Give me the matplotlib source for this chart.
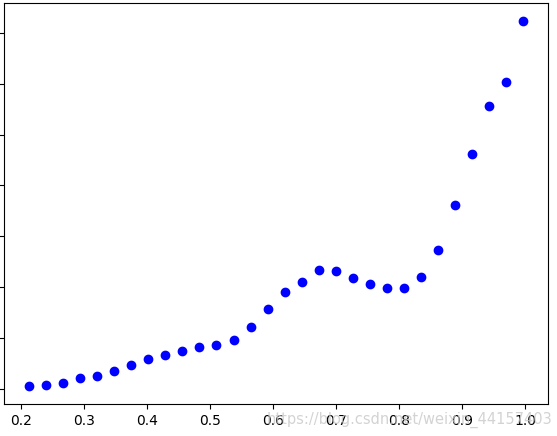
import numpy as np
import matplotlib.pyplot as plt

# values (y in arbitrary units, labels are cropped away)
x = [0.212, 0.239, 0.266, 0.293, 0.320, 0.347, 0.374, 0.401, 0.428, 0.455,
     0.482, 0.509, 0.537, 0.564, 0.591, 0.618, 0.645, 0.672, 0.699, 0.726,
     0.753, 0.780, 0.807, 0.834, 0.861, 0.888, 0.915, 0.942, 0.970, 0.997]
y = [0.059, 0.078, 0.112, 0.210, 0.261, 0.353, 0.476, 0.588, 0.661, 0.745,
     0.829, 0.869, 0.961, 1.216, 1.575, 1.908, 2.104, 2.327, 2.308, 2.182,
     2.059, 1.975, 1.975, 2.196, 2.739, 3.608, 4.608, 5.563, 6.033, 7.229]
xticks = [0.2, 0.3, 0.4, 0.5, 0.6, 0.7, 0.8, 0.9, 1.0]
yticks = [0, 1, 2, 3, 4, 5, 6, 7]

fig = plt.figure(figsize=(5.57, 4.36), dpi=100)
ax = fig.add_axes([0.0072, 0.0734, 0.9768, 0.9197])
ax.plot(x, y, 'bo')
ax.set_xticks(xticks)
ax.set_yticks(yticks)
ax.tick_params(axis='y', labelleft=False)

# blog watermark in the lower right corner
fig.text(0.992, 0.018, 'https://blog.csdn.net/weixin_44157403', color='#c8c8c8',
         fontsize=10.5, ha='right', va='bottom', alpha=0.8)

plt.savefig('out.png', dpi=100)
